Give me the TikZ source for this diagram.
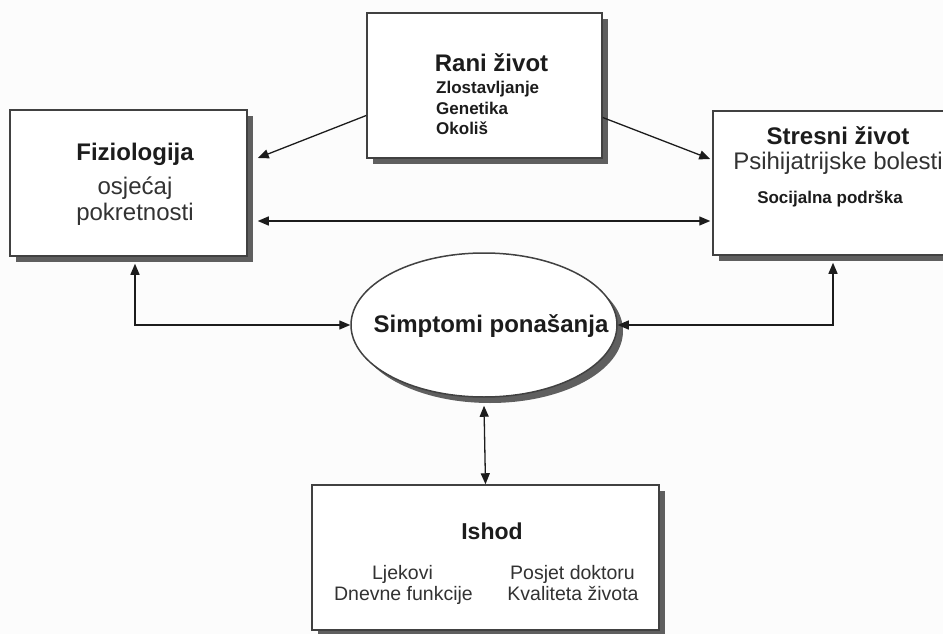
\documentclass[tikz,border=0pt]{standalone}
\usepackage{fontspec}
\setmainfont{Liberation Sans}
\usetikzlibrary{arrows.meta,shapes.geometric,shadows,calc}
\definecolor{bg}{RGB}{252,252,252}
\definecolor{ink}{RGB}{28,28,28}
\definecolor{inkreg}{RGB}{50,50,50}
\definecolor{edge}{RGB}{65,65,65}
\definecolor{shade}{RGB}{95,95,95}
\begin{document}
\begin{tikzpicture}[x=1pt,y=-1pt,
  shadowed/.style={drop shadow={shadow xshift=6pt,shadow yshift=-6pt,fill=shade,opacity=1}},
  box/.style={rectangle,draw=edge,line width=1.5pt,fill=white,inner sep=0pt,shadowed},
  oval/.style={ellipse,draw=edge,line width=1.5pt,fill=white,inner sep=0pt,shadowed},
  title/.style={font=\bfseries\fontsize{24}{28}\selectfont,text=ink,inner sep=0pt,anchor=base},
  subb/.style={font=\bfseries\fontsize{17}{20}\selectfont,text=ink,inner sep=0pt,anchor=base west},
  subbc/.style={font=\bfseries\fontsize{17}{20}\selectfont,text=ink,inner sep=0pt,anchor=base},
  reg/.style={font=\fontsize{24}{28}\selectfont,text=inkreg,inner sep=0pt,anchor=base},
  small/.style={font=\fontsize{19.5}{22}\selectfont,text=inkreg,inner sep=0pt,anchor=base},
  conn/.style={draw=ink,line width=1.3pt},
  tip/.style={-{Triangle[length=11pt,width=9pt]}},
  tips/.style={{Triangle[length=11pt,width=9pt]}-{Triangle[length=11pt,width=9pt]}}]
\useasboundingbox (0,0) rectangle (943,634);
\fill[bg] (0,0) rectangle (943,634);

% boxes
\node[box,minimum width=235pt,minimum height=145pt] (rani) at (484.5,85.5) {};
\node[box,minimum width=237pt,minimum height=146pt] (fiz) at (128.5,183) {};
\node[box,minimum width=250pt,minimum height=144pt] (stres) at (838,183) {};
\node[box,minimum width=347pt,minimum height=145pt] (ishod) at (485.5,557.5) {};
\node[oval,minimum width=266pt,minimum height=144pt] (simp) at (484,325) {};

% texts
\node[title] (tRani) at (491.5,71) {Rani život};
\node[subb] (tZl) at (436,93) {Zlostavljanje};
\node[subb] (tGe) at (436,114) {Genetika};
\node[subb] (tOk) at (436,135) {Okoliš};

\node[title] (tFiz) at (135,160) {Fiziologija};
\node[reg] (tOsj) at (135,194) {osjećaj};
\node[reg] (tPok) at (135,220) {pokretnosti};

\node[title] (tStr) at (838,144) {Stresni život};
\node[reg] (tPsi) at (838,169) {Psihijatrijske bolesti};
\node[subbc] (tSoc) at (830,203) {Socijalna podrška};

\node[title] (tSim) at (491,332) {Simptomi ponašanja};

\node[title,font=\bfseries\fontsize{23}{27}\selectfont] (tIsh) at (492,539) {Ishod};
\node[small] (tLj) at (402.5,579) {Ljekovi};
\node[small] (tDn) at (403.5,600) {Dnevne funkcije};
\node[small] (tPo) at (572.5,579) {Posjet doktoru};
\node[small] (tKv) at (573,600) {Kvaliteta života};

% connectors
\coordinate (fizR1) at ([xshift=10pt,yshift=25pt]fiz.east);
\coordinate (fizR2) at ([xshift=10pt,yshift=-38pt]fiz.east);
\coordinate (strL2) at ([xshift=-2pt,yshift=-38pt]stres.west);
\coordinate (fizB) at ([xshift=6.5pt,yshift=-7pt]fiz.south);
\coordinate (strB) at ([xshift=-5pt,yshift=-7pt]stres.south);
\coordinate (simB) at ([yshift=-8pt]simp.south);

\draw[conn,tip] ([yshift=-30pt]rani.west) -- (fizR1);
\draw[conn,tip] ([yshift=-32pt]rani.east) -- ([xshift=-2pt,yshift=24pt]stres.west);
\draw[conn,tips] (fizR2) -- (strL2);
\draw[conn,tips] (fizB) |- (simp.west);
\draw[conn,tips] (strB) |- (simp.east);
\draw[conn,tips] (simB) -- (ishod.north);
\end{tikzpicture}
\end{document}
